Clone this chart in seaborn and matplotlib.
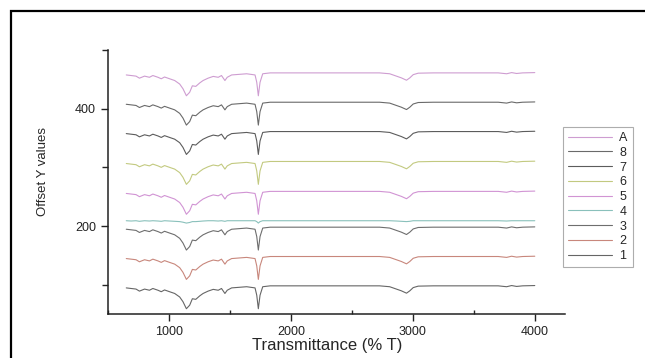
import pandas as pd
import matplotlib
matplotlib.use("Agg")
import matplotlib.pyplot as plt
import seaborn as sns
from matplotlib.ticker import MultipleLocator
from matplotlib.patches import Rectangle

# wavenumber grid (cm-1)
wavenumber = [650, 690, 730, 758, 800, 840, 868, 910, 937, 964,
              1005, 1047, 1088, 1115, 1143, 1170, 1192, 1220, 1253, 1280,
              1321, 1363, 1404, 1431, 1459, 1478, 1514, 1637, 1706, 1720,
              1733, 1747, 1769, 1830, 2727, 2810, 2865, 2906, 2948, 2975,
              3003, 3044, 3168, 3700, 3769, 3810, 3851, 3900, 4000]

# shape of the stacked spectra relative to their baseline
profile = [-3.5, -4.5, -5.5, -9, -5.5, -7.5, -4.5, -7.5, -10, -7,
           -10, -13, -19, -27, -39, -33, -22, -23, -17, -13,
           -9, -6, -7.5, -4.5, -13, -7.5, -3.5, -1.5, -3.5, -16,
           -39, -16, -1.5, 0, 0, -1.5, -5.5, -8.5, -12.5, -8.5,
           -3, -0.5, 0, 0, -1.5, 0.5, -1, 0, 0.5]

# sample 4 is almost flat
profile_4 = [0, -0.5, 0, -1, 0, -0.5, 0, -0.5, -1, 0,
             -0.5, -1, -1.5, -2.5, -4, -3, -1.5, -1.5, -1, -0.5,
             0, 0, -0.5, 0, -1, 0, 0, 0, 0, -1.5,
             -4, -1.5, 0, 0, 0, 0, -0.5, -1, -1.5, -1,
             0, 0, 0, 0, -0.5, 0, 0, 0, 0]

labels = ["A", "8", "7", "6", "5", "4", "3", "2", "1"]
offsets = [461, 411, 361, 310, 259, 209, 198, 148, 98]
colors = ["#c992cc", "#5a5a5a", "#4a4a4a", "#bcc472", "#cc88cf",
          "#7dbab4", "#5e5e5e", "#c27a6e", "#555555"]

rows = []
for lab, off in zip(labels, offsets):
    shape = profile_4 if lab == "4" else profile
    for x, y in zip(wavenumber, shape):
        rows.append({"Wavenumber": x, "Offset": y + off, "Sample": lab})
df = pd.DataFrame(rows)

sns.set_style("ticks")
plt.rcParams["font.family"] = ["Liberation Sans", "DejaVu Sans"]

fig = plt.figure(figsize=(6.45, 3.58), dpi=100)
ax = fig.add_axes([0.1674, 0.1229, 0.709, 0.7374])
sns.lineplot(data=df, x="Wavenumber", y="Offset", hue="Sample",
             hue_order=labels, palette=dict(zip(labels, colors)),
             estimator=None, sort=False, lw=0.8, alpha=0.9, ax=ax)

ax.set_xlim(500, 4250)
ax.set_ylim(50, 500)
ax.xaxis.set_major_locator(MultipleLocator(1000))
ax.xaxis.set_minor_locator(MultipleLocator(500))
ax.yaxis.set_major_locator(MultipleLocator(200))
ax.yaxis.set_minor_locator(MultipleLocator(100))
ax.tick_params(which="major", length=5, width=1, labelsize=9, colors="#222222")
ax.tick_params(axis="x", which="minor", direction="in", length=3, width=1)
ax.tick_params(axis="y", which="minor", direction="out", length=4, width=1)
for side in ["top", "right"]:
    ax.spines[side].set_visible(False)
for side in ["left", "bottom"]:
    ax.spines[side].set_linewidth(1.1)
    ax.spines[side].set_color("#222222")

ax.set_xlabel("Transmittance (% T)", fontsize=12)
ax.set_ylabel("Offset Y values", fontsize=9.5)
ax.xaxis.set_label_coords(0.48, -0.09)
ax.yaxis.set_label_coords(-0.128, 0.538)

handles, labs = ax.get_legend_handles_labels()
leg = ax.legend(handles, labs, loc="upper left",
                bbox_to_anchor=(563 / 645, 1 - 127 / 358),
                bbox_transform=fig.transFigure, borderaxespad=0,
                frameon=True, fancybox=False, fontsize=9,
                handlelength=3.5, handletextpad=0.6, labelspacing=0.22,
                borderpad=0.4)
leg.get_frame().set_edgecolor("#999999")
leg.get_frame().set_linewidth(0.8)
for line in leg.get_lines():
    line.set_linewidth(0.8)

# outer frame around the figure
fig.add_artist(Rectangle((11 / 645, -0.2), 1.5, 0.2 + 1 - 11 / 358,
                         transform=fig.transFigure, fill=False,
                         lw=1.6, edgecolor="black"))

fig.savefig("out.png", dpi=100)
